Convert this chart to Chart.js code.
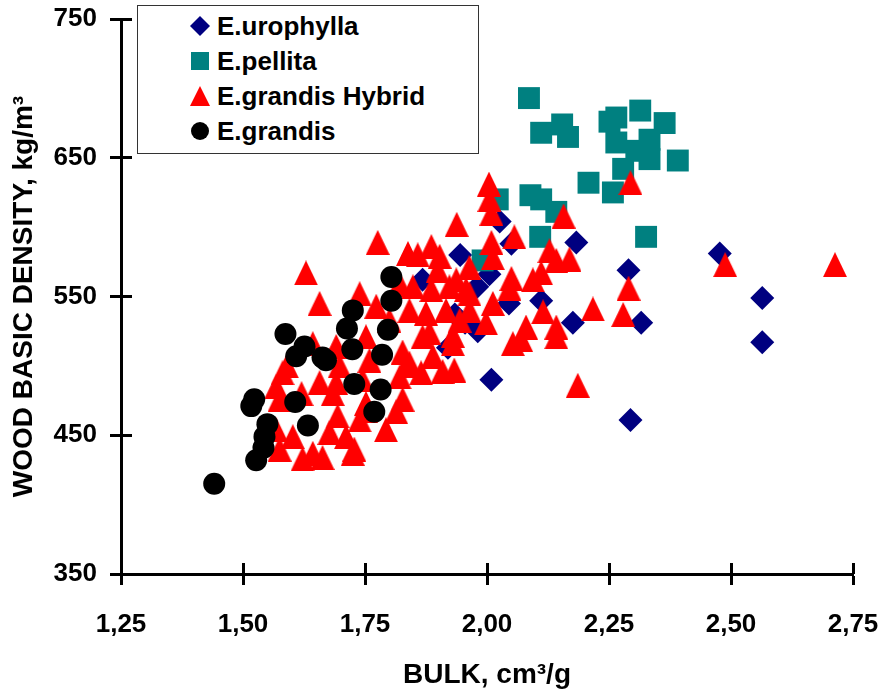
<!DOCTYPE html>
<html>
<head>
<meta charset="utf-8">
<title>Wood basic density vs bulk</title>
<script src="https://cdn.jsdelivr.net/npm/chart.js@4.4.1/dist/chart.umd.min.js"></script>
<style>
  body { margin: 0; background: #fff; }
  #wrap { position: relative; width: 884px; height: 692px; }
  #legend {
    position: absolute; left: 137px; top: 5px; width: 342px; height: 149px;
    box-sizing: border-box; border: 1px solid #333; background: #fff;
    font: bold 26px "Liberation Sans", Arial, sans-serif; color: #000;
  }
  .item { position: absolute; left: 0; width: 100%; height: 35px; line-height: 35px; }
  .item svg { position: absolute; left: 51px; top: 6px; }
  .item span { position: absolute; left: 79px; white-space: nowrap; }
</style>
</head>
<body>
<div id="wrap">
  <canvas id="chart" width="884" height="692"></canvas>
  <div id="legend"></div>
</div>
<script>
// tick labels
const xTicks = [1.25, 1.50, 1.75, 2.00, 2.25, 2.50, 2.75];
const yTicks = [350, 450, 550, 650, 750];

// series names
const seriesNames = ["E.urophylla", "E.pellita", "E.grandis Hybrid", "E.grandis"];

// E.urophylla (diamonds)
const uroX = [1.868, 1.920, 1.934, 1.945, 1.955, 1.980, 1.981, 2.005, 2.009, 2.026, 2.045,
  2.050, 2.111, 2.176, 2.183, 2.290, 2.294, 2.316, 2.477, 2.564, 2.564];
const uroY = [562, 513, 537, 580, 531, 557, 525, 566, 490, 604, 545,
  588, 547, 531, 589, 569, 461, 531, 581, 549, 517];

// E.pellita (squares)
const pelX = [2.086, 2.111, 2.154, 2.166, 2.251, 2.265, 2.265, 2.314, 2.364, 2.333, 2.306,
  2.333, 2.279, 2.258, 2.208, 2.391, 2.022, 2.089, 2.111, 2.142, 2.109, 2.326, 1.991];
const pelY = [693, 668, 674, 665, 676, 679, 661, 684, 675, 663, 655,
  649, 642, 625, 632, 648, 620, 623, 620, 611, 593, 593, 576];

// E.grandis Hybrid (triangles)
const hybX = [2.713, 2.488, 2.290, 2.279, 2.217, 2.294, 2.004, 2.005, 2.009, 1.938, 2.157,
  2.056, 2.009, 2.012, 1.964, 2.128, 2.169, 2.142, 2.050, 2.111, 2.094, 1.937, 1.964,
  2.012, 2.115, 1.944, 1.998, 2.080, 2.142, 1.776, 1.629, 1.657, 1.739, 1.838, 1.858,
  1.886, 1.903, 1.899, 1.821, 1.848, 1.886, 1.923, 1.957, 2.046, 2.053, 1.773, 1.800,
  1.841, 1.875, 1.916, 1.964, 1.882, 1.930, 1.827, 1.889, 1.930, 1.865, 1.909, 1.933,
  1.827, 1.793, 1.728, 1.643, 1.663, 1.694, 1.739, 1.684, 1.752, 1.814, 1.821, 1.745,
  1.759, 1.698, 1.691, 1.752, 1.841, 1.581, 1.568, 1.575, 1.568, 1.602, 1.575, 1.622,
  1.725, 1.711, 1.677, 1.643, 1.752, 1.834, 1.868, 2.070, 2.142, 2.186, 1.691, 1.657,
  1.590, 1.620];
const hybY = [573, 573, 556, 537, 541, 632, 631, 620, 610, 602, 608,
  593, 589, 578, 571, 583, 577, 576, 563, 567, 562, 562, 552,
  545, 539, 533, 531, 528, 528, 589, 567, 545, 552, 581, 580,
  586, 579, 569, 559, 557, 555, 557, 555, 556, 516, 543, 533,
  540, 538, 540, 540, 524, 522, 510, 507, 516, 495, 496, 497,
  476, 454, 440, 437, 434, 464, 461, 480, 473, 467, 492, 490,
  504, 500, 514, 521, 502, 495, 485, 476, 454, 449, 440, 433,
  437, 449, 452, 516, 468, 500, 521, 519, 521, 486, 488, 488,
  500, 480];

// E.grandis (circles)
const graX = [1.441, 1.517, 1.523, 1.527, 1.542, 1.544, 1.550, 1.587, 1.607, 1.609, 1.626,
  1.633, 1.663, 1.670, 1.713, 1.725, 1.724, 1.728, 1.769, 1.782, 1.785, 1.797, 1.804, 1.804];
const graY = [415, 471, 476, 432, 441, 449, 458, 523, 474, 507, 514,
  457, 506, 504, 527, 540, 512, 487, 467, 483, 508, 526, 547, 564];

const toPoints = (xs, ys) => xs.map((x, i) => ({ x, y: ys[i] }));

// triangle marker as a small canvas (taller than Chart.js' equilateral one)
function triangleMarker(w, h, color) {
  const c = document.createElement("canvas");
  c.width = w; c.height = h;
  const g = c.getContext("2d");
  g.fillStyle = color;
  g.beginPath();
  g.moveTo(w / 2, 0);
  g.lineTo(w, h);
  g.lineTo(0, h);
  g.closePath();
  g.fill();
  return c;
}

// axis ticks that cross the axis line
const crossTicks = {
  id: "crossTicks",
  afterDraw(chart) {
    const { ctx, chartArea: a, scales } = chart;
    const len = 11, w = 3;
    ctx.save();
    ctx.strokeStyle = "#000";
    ctx.lineWidth = w;
    ctx.beginPath();
    scales.x.ticks.forEach(t => {
      const px = Math.round(scales.x.getPixelForValue(t.value) - w / 2) + w / 2;
      ctx.moveTo(px, a.bottom);
      ctx.lineTo(px, a.bottom - len);
    });
    scales.y.ticks.forEach(t => {
      const py = Math.round(scales.y.getPixelForValue(t.value) - w / 2) + w / 2;
      ctx.moveTo(a.left, py);
      ctx.lineTo(a.left + len, py);
    });
    ctx.stroke();
    ctx.restore();
  }
};

Chart.defaults.font.family = '"Liberation Sans", Arial, sans-serif';
Chart.defaults.color = "#000";

const axisFont = { size: 26, weight: "bold" };
const titleFont = { size: 28, weight: "bold" };

const chart = new Chart(document.getElementById("chart"), {
  type: "scatter",
  data: {
    datasets: [
      {
        label: seriesNames[0], data: toPoints(uroX, uroY),
        pointStyle: "rectRot", pointRadius: 12, borderWidth: 0,
        backgroundColor: "#000080", order: 3
      },
      {
        label: seriesNames[1], data: toPoints(pelX, pelY),
        pointStyle: "rect", pointRadius: 15.5, borderWidth: 0,
        backgroundColor: "#008080", order: 2
      },
      {
        label: seriesNames[2], data: toPoints(hybX, hybY),
        pointStyle: triangleMarker(24, 25, "#ff0000"), pointRadius: 12, borderWidth: 0,
        backgroundColor: "#ff0000", order: 1
      },
      {
        label: seriesNames[3], data: toPoints(graX, graY),
        pointStyle: "circle", pointRadius: 11, borderWidth: 0,
        backgroundColor: "#000000", order: 0
      }
    ]
  },
  options: {
    responsive: false,
    animation: false,
    layout: { padding: { top: 19, right: 31, left: 0, bottom: 0 } },
    plugins: { legend: { display: false }, tooltip: { enabled: false } },
    scales: {
      x: {
        type: "linear", min: 1.25, max: 2.75,
        afterBuildTicks: s => { s.ticks = xTicks.map(v => ({ value: v })); },
        afterFit: s => { s.height = 118; s.paddingLeft = 0; s.paddingRight = 0; },
        grid: { drawOnChartArea: false, tickLength: 11, tickWidth: 3, tickColor: "#000" },
        border: { color: "#000", width: 3 },
        ticks: {
          font: axisFont, padding: 24, maxRotation: 0,
          callback: v => v.toFixed(2).replace(".", ",")
        },
        title: { display: true, text: "BULK, cm³/g", font: titleFont, padding: { top: 0, bottom: 0 } }
      },
      y: {
        type: "linear", min: 350, max: 750,
        afterBuildTicks: s => { s.ticks = yTicks.map(v => ({ value: v })); },
        afterFit: s => { s.width = 121; s.paddingTop = 0; s.paddingBottom = 0; },
        grid: { drawOnChartArea: false, tickLength: 11, tickWidth: 3, tickColor: "#000" },
        border: { color: "#000", width: 3 },
        ticks: { font: axisFont, padding: 13 },
        title: { display: true, text: "WOOD BASIC DENSITY, kg/m³", font: titleFont, padding: { top: 7, bottom: 0 } }
      }
    }
  },
  plugins: [crossTicks]
});

// html legend built from the chart's datasets
const markerSvg = {
  rectRot: c => `<polygon points="11,1 21,11 11,21 1,11" fill="${c}"/>`,
  rect: c => `<rect x="2" y="2" width="18" height="18" fill="${c}"/>`,
  circle: c => `<circle cx="11" cy="11" r="9" fill="${c}"/>`,
  triangle: c => `<polygon points="11,1 21,21 1,21" fill="${c}"/>`
};
const legend = document.getElementById("legend");
chart.data.datasets.forEach((ds, i) => {
  const kind = typeof ds.pointStyle === "string" ? ds.pointStyle : "triangle";
  const div = document.createElement("div");
  div.className = "item";
  div.style.top = (2.5 + i * 35.2) + "px";
  div.innerHTML = `<svg width="22" height="22">${markerSvg[kind](ds.backgroundColor)}</svg><span>${ds.label}</span>`;
  legend.appendChild(div);
});
</script>
</body>
</html>
